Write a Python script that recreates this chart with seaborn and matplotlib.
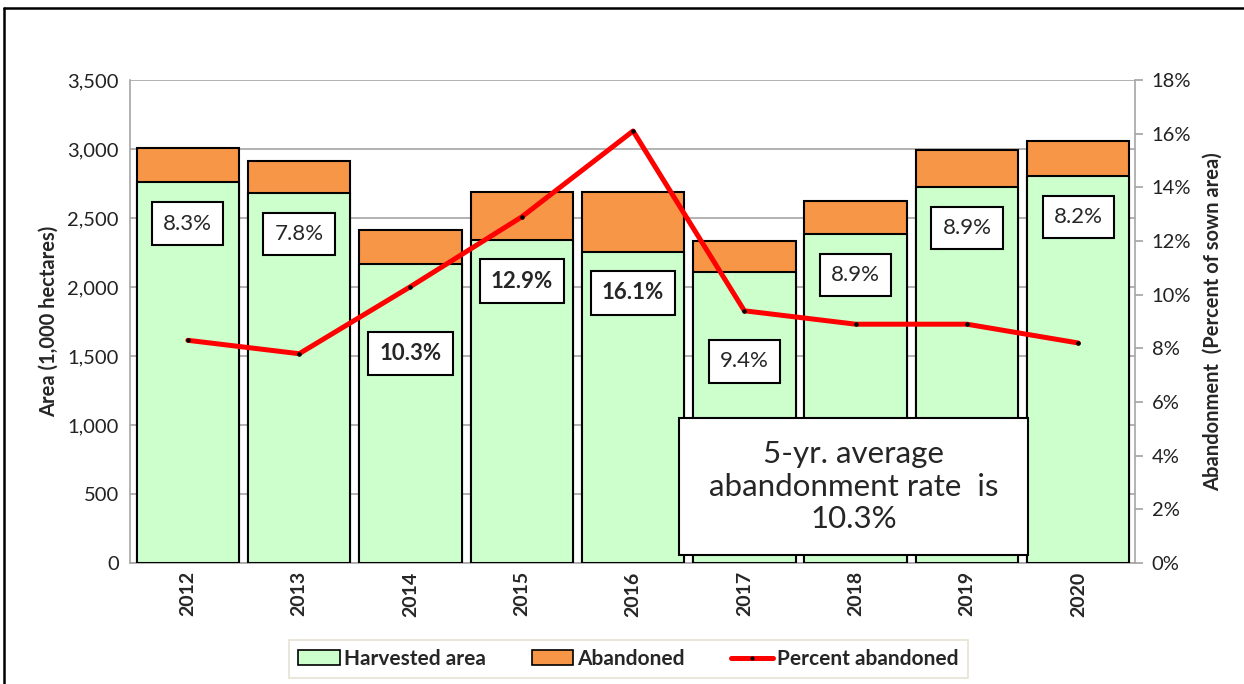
import numpy as np
import seaborn as sns
import matplotlib.pyplot as plt
import pandas as pd
from matplotlib.patches import Patch, Rectangle
from matplotlib.lines import Line2D
from matplotlib.ticker import FuncFormatter

sns.set_theme(style="white")
plt.rcParams['font.family'] = ['Lato', 'DejaVu Sans']

# ── 数据 ────────────────────────────────────────────────────────
years = ['2012', '2013', '2014', '2015', '2016', '2017', '2018', '2019', '2020']
harvested = [2760, 2683, 2166, 2343, 2257, 2111, 2387, 2728, 2805]
abandoned = [250, 227, 249, 347, 433, 219, 233, 267, 250]
pct_abandoned = [8.3, 7.8, 10.3, 12.9, 16.1, 9.4, 8.9, 8.9, 8.2]
bold_labels = ['2014', '2015', '2016']
low_labels = ['2014', '2017']   # 这两个标签放低一点，避开折线

df = pd.DataFrame({'Year': years, 'Harvested': harvested,
                   'Abandoned': abandoned, 'Pct': pct_abandoned})
df['Total'] = df['Harvested'] + df['Abandoned']

green = '#CCFFCC'
orange = '#F79646'

fig = plt.figure(figsize=(12.44, 6.84), dpi=100)
ax = fig.add_axes([0.1045, 0.1769, 0.8079, 0.7061])

# ── 堆叠柱 ──────────────────────────────────────────────────────
sns.barplot(data=df, x='Year', y='Total', color=orange, saturation=1,
            edgecolor='black', linewidth=1.5, width=0.92, ax=ax, zorder=2)
sns.barplot(data=df, x='Year', y='Harvested', color=green, saturation=1,
            edgecolor='black', linewidth=1.5, width=0.92, ax=ax, zorder=3)

ax.set_ylim(0, 3500)
ax.set_yticks(np.arange(0, 3501, 500))
ax.yaxis.set_major_formatter(FuncFormatter(lambda v, p: f'{v:,.0f}'))
ax.set_xlim(-0.52, 8.51)
ax.grid(axis='y', color='#A6A6A6', linewidth=1.2, zorder=0)
ax.set_axisbelow(True)
ax.set_xlabel('')
ax.set_ylabel('Area (1,000 hectares)', fontsize=14.5, fontweight='bold', labelpad=6)
ax.tick_params(axis='y', labelsize=14.5, length=0, pad=8, colors='#222222')
ax.tick_params(axis='x', labelsize=14, length=0, pad=6)
for lab in ax.get_xticklabels():
    lab.set_rotation(90)
    lab.set_fontweight('bold')
for s in ['top', 'right']:
    ax.spines[s].set_visible(False)
ax.spines['left'].set_color('#A6A6A6')
ax.spines['bottom'].set_color('#A6A6A6')
ax.spines['left'].set_linewidth(1.2)
ax.spines['bottom'].set_linewidth(1.2)

# ── 右轴：弃耕比例 ──────────────────────────────────────────────
ax2 = ax.twinx()
sns.lineplot(x=np.arange(len(years)), y=df['Pct'], color='red', linewidth=3.6,
             marker='o', markersize=2.5, markerfacecolor='black',
             markeredgecolor='black', ax=ax2, zorder=4)
ax2.set_ylim(0, 18)
ax2.set_yticks(np.arange(0, 19, 2))
ax2.yaxis.set_major_formatter(FuncFormatter(lambda v, p: f'{v:.0f}%'))
ax2.set_ylabel('Abandonment  (Percent of sown area)', fontsize=14.5,
               fontweight='bold', labelpad=8)
ax2.tick_params(axis='y', labelsize=14.5, direction='out', length=6,
                color='#A6A6A6', pad=6, colors='#222222')
ax2.tick_params(axis='y', color='#A6A6A6')
for s in ['top', 'left', 'bottom']:
    ax2.spines[s].set_visible(False)
ax2.spines['right'].set_color('#A6A6A6')
ax2.spines['right'].set_linewidth(1.2)
ax2.set_xlim(-0.52, 8.51)

# 每根柱子里的百分比标签
for i, row in df.iterrows():
    off = 650 if row['Year'] in low_labels else 300
    y = (row['Harvested'] - off) / 3500 * 18
    ax2.text(i, y, f"{row['Pct']:.1f}%", ha='center', va='center',
             fontsize=16,
             fontweight='bold' if row['Year'] in bold_labels else 'normal',
             bbox=dict(boxstyle='square,pad=0.5', fc='white', ec='black', lw=1.5),
             zorder=6)

# 5 年平均注释框
ax2.add_patch(Rectangle((0.546, 0.0166), 0.348, 0.284, transform=ax2.transAxes,
                        fc='white', ec='black', lw=1.5, zorder=7))
ax2.text(0.72, 0.158, '5-yr. average\nabandonment rate  is\n10.3%',
         transform=ax2.transAxes, ha='center', va='center', fontsize=22.5,
         linespacing=1.2, zorder=8)

# ── 图例 ────────────────────────────────────────────────────────
handles = [
    Patch(facecolor=green, edgecolor='black', linewidth=1.2, label='Harvested area'),
    Patch(facecolor=orange, edgecolor='black', linewidth=1.2, label='Abandoned'),
    Line2D([0], [0], color='red', linewidth=3.6, marker='o', markersize=2,
           markerfacecolor='black', markeredgecolor='black', label='Percent abandoned'),
]
leg = fig.legend(handles=handles, loc='center', bbox_to_anchor=(0.505, 0.0365),
                 ncol=3, frameon=True, fancybox=False, fontsize=15,
                 handlelength=2.0, handletextpad=0.2, columnspacing=2.2,
                 borderpad=0.45)
leg.get_frame().set_edgecolor('#E0DCC8')
leg.get_frame().set_linewidth(1.2)
for t in leg.get_texts():
    t.set_fontweight('bold')

# 外框
fig.add_artist(Line2D([0.003, 1.0], [0.988, 0.988], transform=fig.transFigure,
                      color='black', linewidth=1.8))
fig.add_artist(Line2D([0.003, 0.003], [0.0, 0.988], transform=fig.transFigure,
                      color='black', linewidth=1.8))

plt.savefig('out.png', dpi=100)
